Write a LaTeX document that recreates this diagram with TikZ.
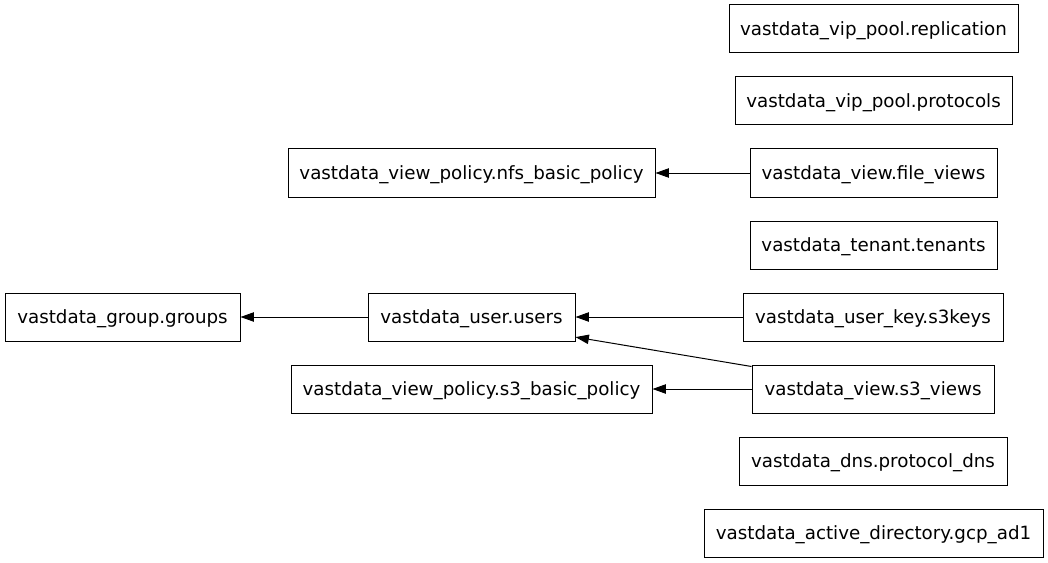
\documentclass[tikz,border=0pt]{standalone}
\usepackage{fontspec}
\setmainfont{DejaVu Sans}
\usetikzlibrary{arrows.meta}
\begin{document}
\begin{tikzpicture}[x=0.75pt,y=-0.75pt,
  box/.style={draw,line width=0.75pt,inner sep=0pt,minimum height=36pt,text height=10.5pt,text depth=0.5pt,font=\fontsize{13.7pt}{16pt}\selectfont},
  edge/.style={line width=0.75pt,-{Triangle[length=10pt,width=7pt]}}]
\useasboundingbox (0,0) rectangle (1048,563);
\node[box,minimum width=289*0.75pt] (replication) at (873.5,29) {vastdata\_vip\_pool.replication};
\node[box,minimum width=277*0.75pt] (protocols) at (873.5,101) {vastdata\_vip\_pool.protocols};
\node[box,minimum width=367*0.75pt] (nfs) at (471.5,173) {vastdata\_view\_policy.nfs\_basic\_policy};
\node[box,minimum width=247*0.75pt] (fileviews) at (873.5,173) {vastdata\_view.file\_views};
\node[box,minimum width=247*0.75pt] (tenants) at (873.5,245) {vastdata\_tenant.tenants};
\node[box,minimum width=235*0.75pt] (groups) at (122.5,317) {vastdata\_group.groups};
\node[box,minimum width=207*0.75pt] (users) at (471.5,317) {vastdata\_user.users};
\node[box,minimum width=260*0.75pt] (s3keys) at (873,317) {vastdata\_user\_key.s3keys};
\node[box,minimum width=361*0.75pt] (s3policy) at (471.5,389) {vastdata\_view\_policy.s3\_basic\_policy};
\node[box,minimum width=242*0.75pt] (s3views) at (873,389) {vastdata\_view.s3\_views};
\node[box,minimum width=268*0.75pt] (dns) at (873,461) {vastdata\_dns.protocol\_dns};
\node[box,minimum width=339*0.75pt] (ad) at (873.5,533) {vastdata\_active\_directory.gcp\_ad1};
\draw[edge] (fileviews.west) -- (nfs.east);
\draw[edge] (users.west) -- (groups.east);
\draw[edge] (s3keys.west) -- (users.east);
\draw[edge] ([yshift=-1.5pt]s3views.north west) -- ([yshift=3.3pt]users.south east);
\draw[edge] (s3views.west) -- (s3policy.east);
\end{tikzpicture}
\end{document}
